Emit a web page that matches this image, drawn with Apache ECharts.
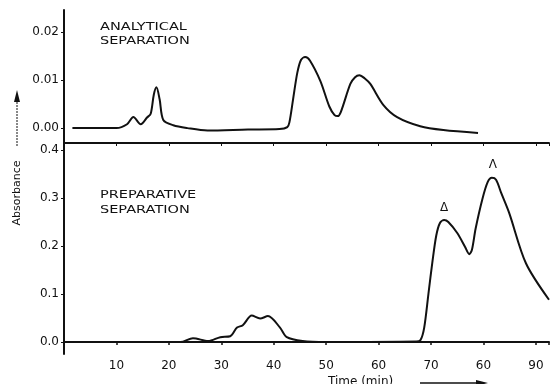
<!DOCTYPE html>
<html>
<head>
<meta charset="utf-8">
<script src="https://cdn.jsdelivr.net/npm/echarts@6/dist/echarts.min.js"></script>
<style>
  html, body { margin: 0; padding: 0; background: #fff; }
  #main { width: 552px; height: 384px; }
</style>
</head>
<body>
<div id="main"></div>
<script>
  // analytical run (upper panel): [time, absorbance]
  var analyticalData = [
    [1.6, 0], [10, 0], [12, 0.0008], [13.2, 0.0023], [14.6, 0.0008], [15.8, 0.0022],
    [16.5, 0.003], [17.1, 0.007], [17.6, 0.0085], [18.2, 0.006], [18.9, 0.0017],
    [20.8, 0.0006], [23.5, 0], [27.3, -0.0005], [35, -0.0003], [41, -0.0002],
    [42.5, 0.0002], [42.9, 0.0012], [43.6, 0.006], [44.4, 0.0115], [45.1, 0.0142],
    [45.9, 0.0148], [46.8, 0.0141], [48.8, 0.0098], [50.5, 0.0045], [51.5, 0.0027],
    [52.1, 0.0025], [52.7, 0.0034], [54.5, 0.0092], [55.4, 0.0106], [56.2, 0.011],
    [57.2, 0.0104], [58.3, 0.0092], [60.8, 0.0048], [63.4, 0.0023], [67.8, 0.0004],
    [72.2, -0.0004], [78.8, -0.001]
  ];
  // preparative run (lower panel)
  var preparativeData = [
    [1.8, 0], [22.2, 0], [24.6, 0.008], [27.5, 0.002], [29.8, 0.01], [31.7, 0.012],
    [33, 0.03], [34.1, 0.035], [35.8, 0.055], [37.4, 0.049], [38.9, 0.054],
    [41.2, 0.03], [42.5, 0.01], [45.5, 0.002], [50, 0], [67.2, 0.001], [68, 0.004],
    [68.7, 0.03], [69.5, 0.1], [70.3, 0.17], [71, 0.222], [71.7, 0.248], [72.5, 0.254],
    [73.3, 0.25], [75, 0.227], [76.5, 0.198], [77.3, 0.183], [77.8, 0.192],
    [78.5, 0.236], [79.8, 0.298], [80.8, 0.333], [81.6, 0.342], [82.4, 0.338],
    [83.4, 0.31], [84.9, 0.269], [88.1, 0.164], [92.5, 0.088]
  ];
  // tick labels as printed
  var timeTicks = [10, 20, 30, 40, 50, 60, 70, 80, 90];
  var timeTickLabels = ['10', '20', '30', '40', '50', '60', '70', '60', '90'];
  var topTicks = [0, 0.01, 0.02];
  var bottomTicks = [0, 0.1, 0.2, 0.3, 0.4];
  // peak markers
  var peakMarks = [
    { name: 'Δ', coord: [72.5, 0.279] },
    { name: 'Λ', coord: [81.8, 0.369] }
  ];

  var font = 'DejaVu Sans';
  var ink = '#111';

  var myChart = echarts.init(document.getElementById('main'));
  myChart.setOption({
    animation: false,
    backgroundColor: '#fff',
    grid: [
      { left: 64, right: 2, top: 10, height: 133 },
      { left: 64, right: 2, top: 143, bottom: 30 }
    ],
    xAxis: [
      { gridIndex: 0, type: 'value', min: 0, max: 92.5, show: false },
      {
        gridIndex: 1, type: 'value', min: 0, max: 92.5, interval: 10,
        axisLine: { lineStyle: { color: ink, width: 2 } },
        axisTick: { length: 3, lineStyle: { color: ink, width: 1.5 } },
        splitLine: { show: false },
        axisLabel: {
          color: ink, fontFamily: font, fontSize: 12, margin: 6,
          formatter: function (v) {
            var i = timeTicks.indexOf(v);
            return i < 0 ? '' : timeTickLabels[i];
          }
        }
      },
      {
        gridIndex: 1, type: 'value', position: 'top', min: 0, max: 92.5, interval: 10,
        axisLine: { lineStyle: { color: ink, width: 2 } },
        axisTick: { inside: true, length: 3, lineStyle: { color: ink } },
        axisLabel: { show: false },
        splitLine: { show: false }
      }
    ],
    yAxis: [
      {
        gridIndex: 0, type: 'value', min: -0.0031, max: 0.0246,
        axisLine: { show: true, lineStyle: { color: ink, width: 2 } },
        axisTick: { show: true, length: 3, customValues: topTicks, lineStyle: { color: ink } },
        splitLine: { show: false },
        axisLabel: {
          customValues: topTicks, color: ink, fontFamily: font, fontSize: 12, margin: 5,
          formatter: function (v) { return v.toFixed(2); }
        }
      },
      {
        gridIndex: 1, type: 'value', min: -0.025, max: 0.4146,
        axisLine: { show: true, lineStyle: { color: ink, width: 2 } },
        axisTick: { show: true, length: 3, customValues: bottomTicks, lineStyle: { color: ink } },
        splitLine: { show: false },
        axisLabel: {
          customValues: bottomTicks, color: ink, fontFamily: font, fontSize: 12, margin: 5,
          formatter: function (v) { return v.toFixed(1); }
        }
      }
    ],
    series: [
      {
        type: 'line', xAxisIndex: 0, yAxisIndex: 0, data: analyticalData,
        symbol: 'none', smooth: 0.3,
        lineStyle: { color: ink, width: 2 }
      },
      {
        type: 'line', xAxisIndex: 1, yAxisIndex: 1, data: preparativeData,
        symbol: 'none', smooth: 0.3,
        lineStyle: { color: ink, width: 2 },
        markPoint: {
          symbol: 'circle', symbolSize: 0,
          label: {
            show: true, formatter: '{b}', color: ink,
            fontFamily: font, fontSize: 12
          },
          data: peakMarks
        }
      }
    ],
    graphic: [
      {
        type: 'text', x: 100, y: 20, scaleX: 1.45,
        style: { text: 'ANALYTICAL\nSEPARATION', fill: ink, font: '10px "DejaVu Sans"', lineHeight: 14 }
      },
      {
        type: 'text', x: 100, y: 188, scaleX: 1.45,
        style: { text: 'PREPARATIVE\nSEPARATION', fill: ink, font: '10px "DejaVu Sans"', lineHeight: 15 }
      },
      {
        type: 'text', x: 17, y: 193, rotation: Math.PI / 2,
        style: { text: 'Absorbance', fill: ink, font: '11px "DejaVu Sans"', align: 'center', verticalAlign: 'middle' }
      },
      {
        type: 'line', shape: { x1: 17, y1: 146, x2: 17, y2: 102 },
        style: { stroke: ink, lineWidth: 1, lineDash: [2, 1] }
      },
      {
        type: 'polygon', shape: { points: [[17, 90], [14, 102], [20, 102]] },
        style: { fill: ink }
      },
      {
        type: 'text', left: 328, top: 376,
        style: { text: 'Time (min)', fill: ink, font: '12px "DejaVu Sans"' }
      },
      {
        type: 'line', shape: { x1: 420, y1: 383, x2: 478, y2: 383 },
        style: { stroke: ink, lineWidth: 1.5 }
      },
      {
        type: 'polygon', shape: { points: [[488, 383], [476, 380], [476, 386]] },
        style: { fill: ink }
      }
    ]
  });
</script>
</body>
</html>
